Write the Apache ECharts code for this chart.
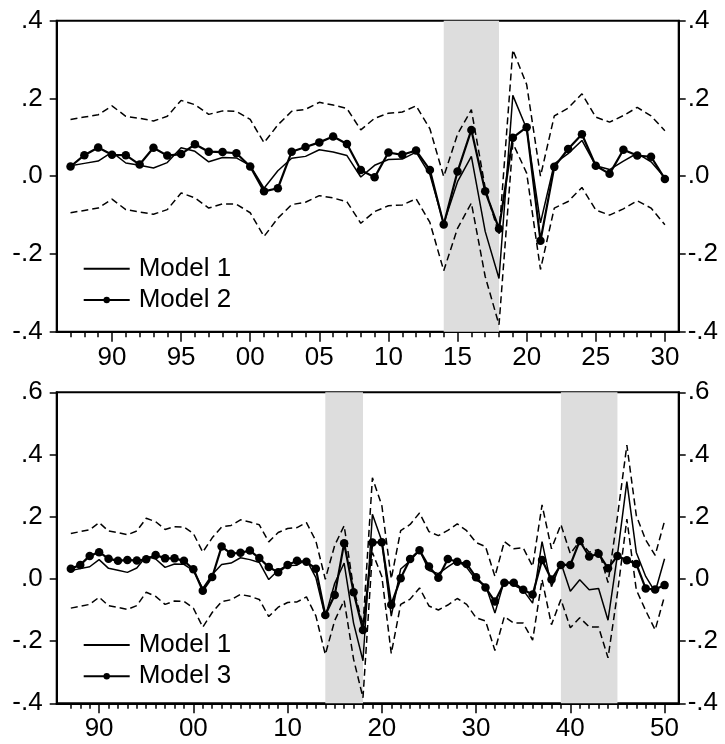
<!DOCTYPE html>
<html>
<head>
<meta charset="utf-8">
<title>Model forecasts</title>
<script src="https://cdn.jsdelivr.net/npm/echarts@6/dist/echarts.min.js"></script>
<style>
  html, body { margin: 0; padding: 0; background: #fff; }
  #myChart { width: 725px; height: 744px; }
</style>
</head>
<body>
<div id="myChart"></div>
<script>
// years 1987 - 2050
const years = [1987, 1988, 1989, 1990, 1991, 1992, 1993, 1994, 1995, 1996,
  1997, 1998, 1999, 2000, 2001, 2002, 2003, 2004, 2005, 2006,
  2007, 2008, 2009, 2010, 2011, 2012, 2013, 2014, 2015, 2016,
  2017, 2018, 2019, 2020, 2021, 2022, 2023, 2024, 2025, 2026,
  2027, 2028, 2029, 2030, 2031, 2032, 2033, 2034, 2035, 2036,
  2037, 2038, 2039, 2040, 2041, 2042, 2043, 2044, 2045, 2046,
  2047, 2048, 2049, 2050];

const model1 = [0.027, 0.033, 0.039, 0.062, 0.034, 0.028, 0.021, 0.035, 0.073, 0.064,
  0.037, 0.048, 0.047, 0.027, -0.031, 0.014, 0.046, 0.051, 0.068, 0.062,
  0.053, -0.002, 0.028, 0.043, 0.044, 0.062, 0.004, -0.122, -0.014, 0.051,
  -0.142, -0.263, 0.208, 0.122, -0.120, 0.032, 0.058, 0.092, 0.027, 0.017,
  0.039, 0.059, 0.037, -0.004, -0.020, -0.110, -0.005, -0.020, -0.036, -0.078,
  0.120, -0.025, 0.052, -0.040, -0.003, -0.035, -0.031, -0.133, 0.077, 0.313,
  0.085, 0.008, -0.042, 0.065];

const upperBand = [0.146, 0.152, 0.158, 0.181, 0.154, 0.149, 0.142, 0.154, 0.195, 0.184,
  0.159, 0.168, 0.167, 0.146, 0.086, 0.132, 0.167, 0.172, 0.190, 0.183,
  0.174, 0.119, 0.149, 0.162, 0.165, 0.181, 0.122, -0.001, 0.108, 0.171,
  -0.030, -0.150, 0.325, 0.236, 0.000, 0.155, 0.175, 0.212, 0.152, 0.139,
  0.156, 0.177, 0.155, 0.117, 0.104, 0.008, 0.120, 0.097, 0.100, 0.040,
  0.238, 0.097, 0.175, 0.081, 0.122, 0.086, 0.095, -0.012, 0.200, 0.430,
  0.204, 0.125, 0.076, 0.186];

const lowerBand = [-0.094, -0.088, -0.082, -0.059, -0.086, -0.092, -0.098, -0.086, -0.043, -0.056,
  -0.082, -0.071, -0.072, -0.094, -0.155, -0.108, -0.073, -0.067, -0.050, -0.056,
  -0.066, -0.121, -0.091, -0.076, -0.074, -0.058, -0.119, -0.243, -0.134, -0.069,
  -0.258, -0.382, 0.085, 0.008, -0.240, -0.082, -0.065, -0.029, -0.087, -0.100,
  -0.084, -0.063, -0.082, -0.125, -0.135, -0.230, -0.121, -0.142, -0.142, -0.197,
  -0.002, -0.147, -0.066, -0.157, -0.125, -0.154, -0.155, -0.254, -0.046, 0.192,
  -0.035, -0.102, -0.164, -0.055];

// 1987 - 2030
const model2 = [0.025, 0.054, 0.074, 0.055, 0.054, 0.030, 0.073, 0.053, 0.057, 0.082,
  0.063, 0.062, 0.059, 0.025, -0.039, -0.031, 0.063, 0.075, 0.087, 0.102,
  0.083, 0.016, -0.003, 0.061, 0.055, 0.066, 0.016, -0.124, 0.012, 0.119,
  -0.039, -0.135, 0.099, 0.126, -0.166, 0.024, 0.070, 0.108, 0.027, 0.006,
  0.068, 0.053, 0.050, -0.007];

// 1987 - 2050
const model3 = [0.033, 0.045, 0.074, 0.086, 0.065, 0.058, 0.061, 0.059, 0.063, 0.077,
  0.066, 0.066, 0.058, 0.031, -0.038, 0.006, 0.104, 0.081, 0.084, 0.091,
  0.067, 0.038, 0.021, 0.045, 0.058, 0.055, 0.033, -0.116, -0.052, 0.115,
  -0.043, -0.164, 0.117, 0.118, -0.083, 0.002, 0.064, 0.092, 0.040, 0.004,
  0.064, 0.055, 0.048, 0.005, -0.028, -0.073, -0.012, -0.012, -0.035, -0.050,
  0.061, -0.002, 0.045, 0.045, 0.122, 0.072, 0.081, 0.034, 0.074, 0.060,
  0.048, -0.031, -0.034, -0.020];

const shadeTop = [[2014, 2018]];
const shadeBottom = [[2014, 2018], [2039, 2045]];

const labelYearsTop = [1990, 1995, 2000, 2005, 2010, 2015, 2020, 2025, 2030];
const labelYearsBottom = [1990, 2000, 2010, 2020, 2030, 2040, 2050];

const topCount = 44; // top panel runs 1987-2030
const font = 'Liberation Sans, Arial, sans-serif';
const fs = 26;

function pairs(vals) {
  return vals.map(function (v, i) { return [years[i], v]; });
}
function yFmt(v) {
  return v.toFixed(1).replace('0.', '.');
}
function xFmt(v) {
  return String(v % 100).padStart(2, '0');
}

function yAx(gi, pos, min, max) {
  return {
    type: 'value', gridIndex: gi, position: pos, min: min, max: max, interval: 0.2,
    axisLine: { show: true, lineStyle: { color: '#000', width: 2 } },
    axisTick: { show: true, length: 7, lineStyle: { color: '#000', width: 1.5 } },
    axisLabel: { color: '#000', fontSize: fs, fontFamily: font, margin: pos === 'left' ? 14 : 9, formatter: yFmt },
    splitLine: { show: false }
  };
}
function xAx(gi, min, max, tickVals, len, labelVals) {
  return {
    type: 'value', gridIndex: gi, position: 'bottom', min: min, max: max,
    axisLine: { show: true, onZero: false, lineStyle: { color: '#000', width: 2 } },
    axisTick: { show: true, length: len, customValues: tickVals, lineStyle: { color: '#000', width: 1.5 } },
    axisLabel: labelVals
      ? { show: true, customValues: labelVals, color: '#000', fontSize: fs, fontFamily: font, margin: 13, formatter: xFmt }
      : { show: false },
    splitLine: { show: false }
  };
}

function band(name, vals, xi, yi, shade) {
  const s = {
    name: name, type: 'line', xAxisIndex: xi, yAxisIndex: yi,
    data: pairs(vals), symbol: 'none', silent: true, z: 3,
    lineStyle: { color: '#000', width: 1.5, type: [7, 4] }
  };
  if (shade) {
    s.markArea = {
      silent: true,
      itemStyle: { color: '#dddddd' },
      data: shade.map(function (d) { return [{ xAxis: d[0] }, { xAxis: d[1] }]; })
    };
  }
  return s;
}
function solid(name, vals, xi, yi) {
  return {
    name: name, type: 'line', xAxisIndex: xi, yAxisIndex: yi,
    data: pairs(vals), symbol: 'none', z: 4,
    lineStyle: { color: '#000', width: 1.5 }
  };
}
function dotted(name, vals, xi, yi) {
  return {
    name: name, type: 'line', xAxisIndex: xi, yAxisIndex: yi,
    data: pairs(vals), symbol: 'circle', symbolSize: 8.5, showAllSymbol: true, z: 5,
    itemStyle: { color: '#000' },
    lineStyle: { color: '#000', width: 2.2 }
  };
}
function legendAt(top, other) {
  return {
    orient: 'vertical', left: 82.7, top: top, padding: 0,
    itemWidth: 46, itemHeight: 8, itemGap: 5.3, selectedMode: false,
    textStyle: { fontSize: fs, color: '#000', fontFamily: font, lineHeight: 26, padding: [0, 0, 0, 4] },
    data: [
      { name: 'Model 1', itemStyle: { color: 'rgba(0,0,0,0)', borderWidth: 0, opacity: 0 } },
      other
    ]
  };
}

const myChart = echarts.init(document.getElementById('myChart'));
const option = {
  animation: false,
  backgroundColor: '#fff',
  grid: [
    { left: 56.7, right: 46.3, top: 20.7, height: 311, show: true, borderColor: '#000', borderWidth: 2, backgroundColor: 'transparent' },
    { left: 56.7, right: 46.3, top: 392.3, height: 311, show: true, borderColor: '#000', borderWidth: 2, backgroundColor: 'transparent' }
  ],
  xAxis: [
    xAx(0, 1986, 2031, years.slice(0, topCount), 5.5, null),
    xAx(0, 1986, 2031, labelYearsTop, 10, labelYearsTop),
    xAx(1, 1985.5, 2051.5, years, 5.5, null),
    xAx(1, 1985.5, 2051.5, labelYearsBottom, 10, labelYearsBottom)
  ],
  yAxis: [
    yAx(0, 'left', -0.4, 0.4),
    yAx(0, 'right', -0.4, 0.4),
    yAx(1, 'left', -0.4, 0.6),
    yAx(1, 'right', -0.4, 0.6)
  ],
  legend: [legendAt(255.7, 'Model 2'), legendAt(632, 'Model 3')],
  series: [
    band('upperTop', upperBand.slice(0, topCount), 0, 0, shadeTop),
    band('lowerTop', lowerBand.slice(0, topCount), 0, 0, null),
    solid('Model 1', model1.slice(0, topCount), 0, 0),
    dotted('Model 2', model2, 0, 0),
    band('upperBottom', upperBand, 2, 2, shadeBottom),
    band('lowerBottom', lowerBand, 2, 2, null),
    solid('Model 1', model1, 2, 2),
    dotted('Model 3', model3, 2, 2)
  ]
};
myChart.setOption(option, true);
</script>
</body>
</html>
